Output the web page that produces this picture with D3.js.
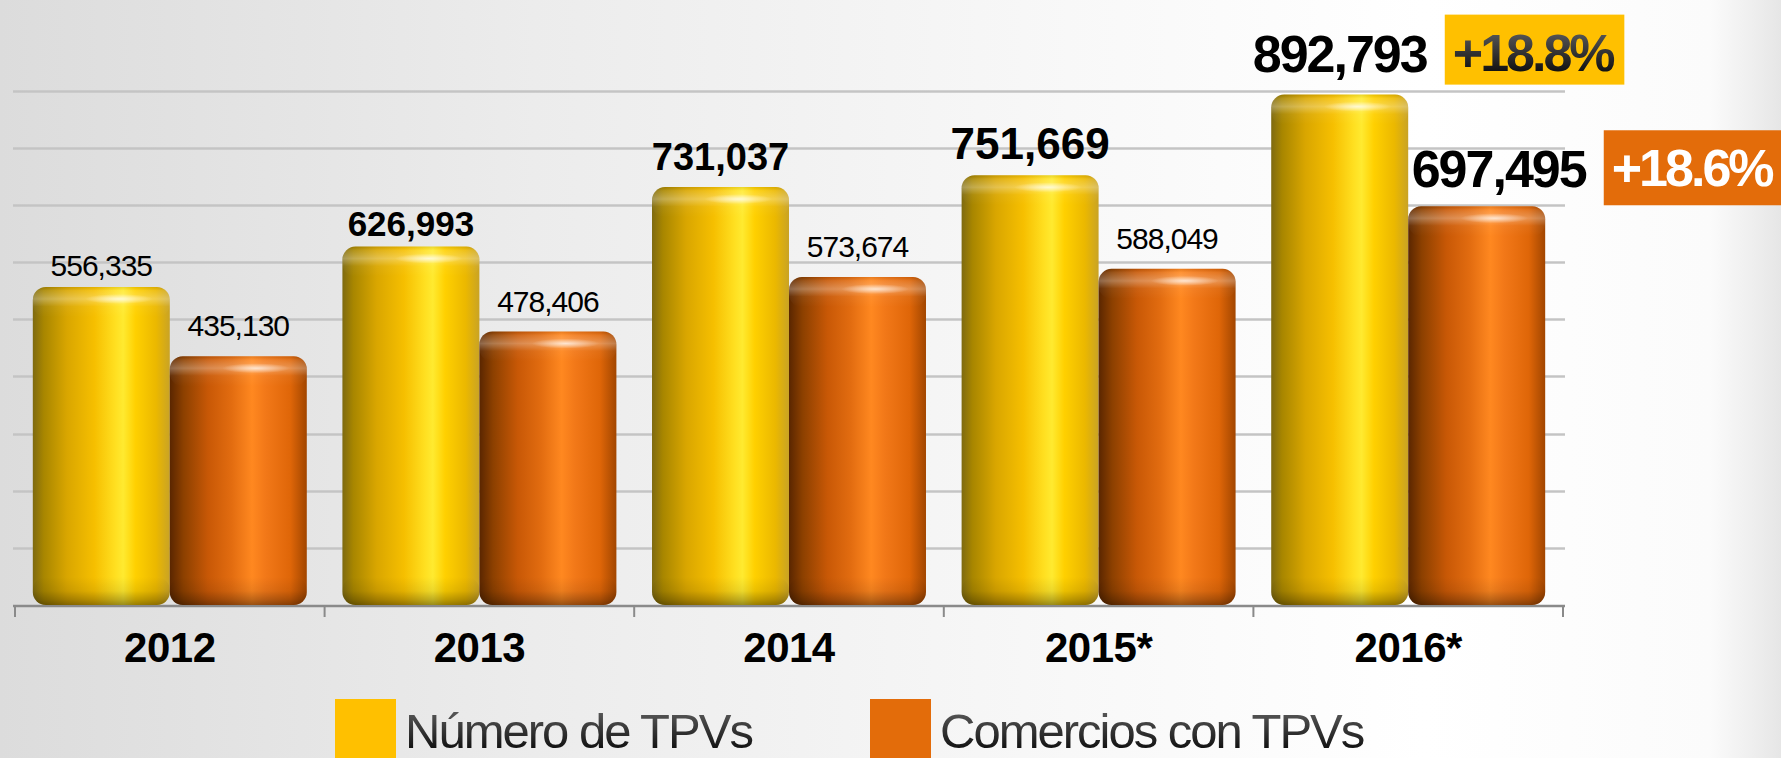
<!DOCTYPE html>
<html>
<head>
<meta charset="utf-8">
<script src="https://cdnjs.cloudflare.com/ajax/libs/d3/7.8.5/d3.min.js"></script>
<style>
  body { margin: 0; background: #fff; }
  text { font-family: Arial, "Liberation Sans", sans-serif; }
</style>
</head>
<body>
<div id="chart"></div>
<script>
// data
var years = ["2012", "2013", "2014", "2015*", "2016*"];
var tpvs = [556335, 626993, 731037, 751669, 892793];
var comercios = [435130, 478406, 573674, 588049, 697495];
var growth = [18.8, 18.6];
var seriesNames = ["Número de TPVs", "Comercios con TPVs"];

// label styles (not data)
var tpvLabelSize = [30, 35, 38, 44, 52];
var comLabelSize = [30, 30, 30, 30, 52];
var tpvLabelOff = [11, 11, 17, 16, 23];
var comLabelOff = [20, 20, 20, 20, 19];
var comLabelDx = [0, 0, 0, 0, 22];

var width = 1781, height = 758;
var baseY = 605;

var svg = d3.select("#chart").append("svg")
    .attr("width", width)
    .attr("height", height);

var defs = svg.append("defs");

// background
var bg = defs.append("linearGradient").attr("id", "bg");
[[0, "#dcdcdc"], [0.3, "#ececec"], [0.6, "#f8f8f8"], [0.8, "#ffffff"], [0.96, "#fbfbfb"], [1, "#e6e6e6"]]
  .forEach(function(s) { bg.append("stop").attr("offset", s[0]).attr("stop-color", s[1]); });
svg.append("rect").attr("width", width).attr("height", height).attr("fill", "url(#bg)");

function hGrad(id, stops) {
  var g = defs.append("linearGradient").attr("id", id);
  stops.forEach(function(s) { g.append("stop").attr("offset", s[0]).attr("stop-color", s[1]); });
}
hGrad("yel", [[0, "#7e6a10"], [0.08, "#a88600"], [0.25, "#d9a600"], [0.45, "#f6bf00"], [0.6, "#ffdf20"], [0.66, "#ffea30"], [0.75, "#ffd000"], [0.9, "#ebb800"], [1, "#c9a325"]]);
hGrad("ora", [[0, "#5a2600"], [0.1, "#8c4000"], [0.28, "#c85806"], [0.45, "#e26c10"], [0.6, "#ff8820"], [0.7, "#f27818"], [0.88, "#df6608"], [1, "#a24600"]]);

var cap = defs.append("linearGradient").attr("id", "cap").attr("x1", 0).attr("y1", 0).attr("x2", 0).attr("y2", 1);
[[0, "#000", 0.08], [0.12, "#fff", 0.1], [0.4, "#fff", 0.3], [0.65, "#fff", 0.05], [1, "#fff", 0]]
  .forEach(function(s) { cap.append("stop").attr("offset", s[0]).attr("stop-color", s[1]).attr("stop-opacity", s[2]); });
var bot = defs.append("linearGradient").attr("id", "bot").attr("x1", 0).attr("y1", 0).attr("x2", 0).attr("y2", 1);
[[0, "#000", 0], [0.5, "#000", 0.08], [0.8, "#000", 0.25], [1, "#000", 0.4]]
  .forEach(function(s) { bot.append("stop").attr("offset", s[0]).attr("stop-color", s[1]).attr("stop-opacity", s[2]); });
var spot = defs.append("radialGradient").attr("id", "spot");
spot.append("stop").attr("offset", 0).attr("stop-color", "#fff").attr("stop-opacity", 0.7);
spot.append("stop").attr("offset", 1).attr("stop-color", "#fff").attr("stop-opacity", 0);

var txtGrad = defs.append("linearGradient").attr("id", "txt").attr("x1", 0).attr("y1", 0).attr("x2", 0).attr("y2", 1);
txtGrad.append("stop").attr("offset", 0).attr("stop-color", "#666");
txtGrad.append("stop").attr("offset", 1).attr("stop-color", "#000");

// scales
var x0 = d3.scaleBand().domain(years).range([15, 1563]).padding(0);
var x1 = d3.scaleBand().domain([0, 1]).range([0, x0.bandwidth()]).paddingInner(0).paddingOuter(0.13);
var y = d3.scaleLinear().domain([0, 900000]).range([baseY, 90.5]);

// gridlines
svg.append("g").selectAll("line")
    .data(d3.range(100000, 900001, 100000))
  .enter().append("line")
    .attr("x1", 13).attr("x2", 1565)
    .attr("y1", function(d) { return Math.round(y(d)) + 0.5; })
    .attr("y2", function(d) { return Math.round(y(d)) + 0.5; })
    .attr("stroke", "#c4c4c4")
    .attr("stroke-width", 2.5);

// axis
var gX = svg.append("g")
    .attr("transform", "translate(0," + baseY + ")")
    .call(d3.axisBottom(x0).tickSize(0).tickPadding(27));
gX.select(".domain").remove();
gX.selectAll("text")
    .style("font-size", "42px")
    .style("font-weight", "bold")
    .style("letter-spacing", "-0.5px")
    .attr("fill", "#000");

svg.append("line")
    .attr("x1", 13).attr("x2", 1565)
    .attr("y1", baseY + 1).attr("y2", baseY + 1)
    .attr("stroke", "#8a8a8a").attr("stroke-width", 2.5);
svg.append("g").selectAll("line")
    .data(years.map(function(d) { return x0(d); }).concat([x0.range()[1]]))
  .enter().append("line")
    .attr("x1", function(d) { return d; }).attr("x2", function(d) { return d; })
    .attr("y1", baseY).attr("y2", baseY + 12)
    .attr("stroke", "#8a8a8a").attr("stroke-width", 2);

// bars
var series = [
  { values: tpvs, fill: "url(#yel)", sizes: tpvLabelSize, dx: [0, 0, 0, 0, 0], off: tpvLabelOff },
  { values: comercios, fill: "url(#ora)", sizes: comLabelSize, dx: comLabelDx, off: comLabelOff }
];

var bw = x1.bandwidth();
var labelEnds = [];

series.forEach(function(s, si) {
  var g = svg.append("g");
  var bars = g.selectAll(".bar")
      .data(s.values)
    .enter().append("g")
      .attr("class", "bar")
      .attr("transform", function(d, i) { return "translate(" + (x0(years[i]) + x1(si)) + ",0)"; });

  bars.append("rect")
      .attr("y", function(d) { return y(d); })
      .attr("width", bw)
      .attr("height", function(d) { return baseY - y(d); })
      .attr("rx", 13)
      .attr("fill", s.fill);

  bars.append("rect")
      .attr("y", function(d) { return y(d); })
      .attr("width", bw)
      .attr("height", 30)
      .attr("rx", 13)
      .attr("fill", "url(#cap)");

  bars.append("ellipse")
      .attr("cx", bw * 0.63)
      .attr("cy", function(d) { return y(d) + 12; })
      .attr("rx", 34).attr("ry", 5)
      .attr("fill", "url(#spot)");

  bars.append("rect")
      .attr("y", baseY - 28)
      .attr("width", bw)
      .attr("height", 28)
      .attr("rx", 13)
      .attr("fill", "url(#bot)");

  // value labels
  var labels = g.selectAll(".lbl")
      .data(s.values)
    .enter().append("text")
      .attr("class", "lbl")
      .attr("x", function(d, i) { return x0(years[i]) + x1(si) + bw / 2 + s.dx[i]; })
      .attr("y", function(d, i) { return y(d) - s.off[i]; })
      .attr("text-anchor", "middle")
      .style("font-size", function(d, i) { return s.sizes[i] + "px"; })
      .style("font-weight", function(d, i) { return s.sizes[i] > 30 ? "bold" : "normal"; })
      .style("letter-spacing", function(d, i) { return s.sizes[i] > 50 ? "-2px" : (s.sizes[i] > 30 ? "0px" : "-1px"); })
      .attr("fill", "#000")
      .text(function(d) { return d3.format(",")(d); });

  var n = s.values.length - 1;
  var bb = labels.nodes()[n].getBBox();
  labelEnds.push({ x: bb.x + bb.width, y: y(s.values[n]) - s.off[n] });
});

// growth boxes
growth.forEach(function(gv, i) {
  var pos = labelEnds[i];
  var g = svg.append("g");
  var t = g.append("text")
      .attr("x", pos.x + 25)
      .attr("y", pos.y - 1)
      .style("font-size", "52px")
      .style("font-weight", "bold")
      .style("letter-spacing", "-3px")
      .attr("fill", i === 0 ? "url(#txt)" : "#fff")
      .text("+" + d3.format(".1f")(gv) + "%");
  var tw = t.node().getBBox().width;
  g.insert("rect", "text")
      .attr("x", pos.x + 17)
      .attr("y", pos.y - 57)
      .attr("width", tw + 18)
      .attr("height", i === 0 ? 70 : 75)
      .attr("fill", i === 0 ? "#ffc000" : "#e36c0a");
});

// legend
var legend = svg.selectAll(".legend")
    .data(seriesNames)
  .enter().append("g")
    .attr("class", "legend")
    .attr("transform", function(d, i) { return "translate(" + (i === 0 ? 335 : 870) + ",699)"; });

legend.append("rect")
    .attr("width", 61).attr("height", 62)
    .attr("fill", function(d, i) { return i === 0 ? "#ffc000" : "#e36c0a"; });

legend.append("text")
    .attr("x", 70)
    .attr("y", 49)
    .style("font-size", "49px")
    .style("letter-spacing", "-2px")
    .attr("fill", "url(#txt)")
    .text(function(d) { return d; });
</script>
</body>
</html>
